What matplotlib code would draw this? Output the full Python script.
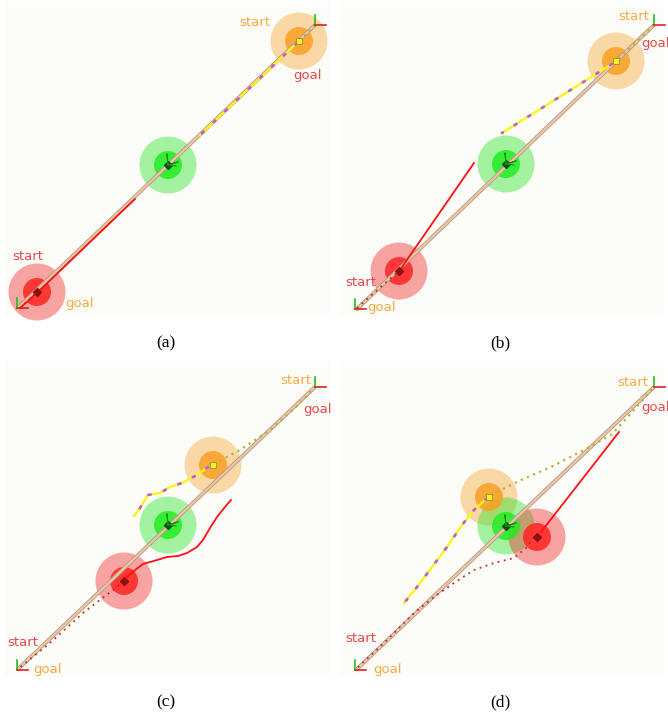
import matplotlib
matplotlib.use("Agg")
import matplotlib.pyplot as plt
from matplotlib.patches import Circle, Rectangle

# ---------------- data (panel-local pixel coordinates, y downward) ----------------
panel_names = ["(a)", "(b)", "(c)", "(d)"]

# global reference path (tan line): start -> end
main_path = {
    "a": ([18, 315], [308, 25]),
    "b": ([22, 320], [310, 25]),
    "c": ([17, 315], [310, 27]),
    "d": ([22, 320], [310, 27]),
}
# robot centres: orange, green, red
orange_robot = {"a": (299, 41), "b": (282, 61), "c": (213, 105), "d": (155, 137)}
green_robot = {"a": (168, 165), "b": (172, 164), "c": (168, 165), "d": (172, 166)}
red_robot = {"a": (37, 292), "b": (65, 271), "c": (124, 221), "d": (203, 177)}

# red robot planned trajectory (solid)
red_plan = {
    "a": ([20, 40, 135], [308, 290, 199]),
    "b": ([66, 140], [270, 163]),
    "c": ([127, 135, 143, 157, 167, 178, 187, 197, 203, 210, 217, 225, 231],
          [217, 210, 204, 200, 197, 196, 193, 187, 180, 168, 157, 147, 140]),
    "d": ([207, 285], [172, 72]),
}
# red robot travelled path (dotted)
red_trail = {
    "a": ([20, 37], [308, 292]),
    "b": ([23, 66], [308, 270]),
    "c": ([124, 113, 83, 50, 18], [221, 230, 253, 283, 309]),
    "d": ([200, 192, 180, 160, 140, 120, 100, 80, 50, 23],
          [177, 188, 198, 203, 210, 223, 237, 253, 283, 308]),
}
# orange robot planned trajectory (yellow with purple waypoints)
orange_plan = {
    "a": ([297, 200], [43, 135]),
    "b": ([278, 168], [64, 133]),
    "c": ([208, 197, 182, 170, 160, 148, 145, 140, 134],
          [107, 115, 123, 127, 133, 135, 140, 148, 156]),
    "d": ([153, 140, 128, 113, 98, 83, 70], [138, 150, 165, 187, 207, 227, 243]),
}
# orange robot travelled path (olive dotted)
orange_trail = {
    "a": ([315, 299], [25, 41]),
    "b": ([320, 282], [25, 61]),
    "c": ([208, 240, 270, 295, 315], [107, 90, 70, 48, 27]),
    "d": ([157, 187, 217, 250, 277, 293, 320], [135, 120, 107, 90, 75, 58, 27]),
}
# text labels: (text, x, y, colour key)
labels = {
    "a": [("start", 255, 23, "o"), ("goal", 308, 76, "r"), ("start", 28, 257, "r"), ("goal", 80, 303, "o")],
    "b": [("start", 300, 17, "o"), ("goal", 322, 44, "r"), ("start", 27, 283, "r"), ("goal", 48, 308, "o")],
    "c": [("start", 296, 20, "o"), ("goal", 318, 49, "r"), ("start", 23, 282, "r"), ("goal", 48, 310, "o")],
    "d": [("start", 299, 22, "o"), ("goal", 322, 48, "r"), ("start", 27, 278, "r"), ("goal", 53, 310, "o")],
}
# coordinate frames at the two start points
frames = {
    "a": [(315, 25), (17, 308)],
    "b": [(320, 25), (21, 309)],
    "c": [(315, 27), (17, 310)],
    "d": [(320, 27), (21, 310)],
}

# ---------------- styling ----------------
C_ORANGE_TXT = "#f5aa45"
C_RED_TXT = "#e84848"
W, H = 668, 717
PW, PH = 334, 330
origins = {"a": (0, 0), "b": (334, 0), "c": (0, 360), "d": (334, 360)}
caption_pos = {"a": (166, 343), "b": (500, 343), "c": (166, 702), "d": (500, 702)}

fig = plt.figure(figsize=(W / 100, H / 100), dpi=100)
fig.patch.set_facecolor("white")

for key, name in zip("abcd", panel_names):
    ox, oy = origins[key]
    ax = fig.add_axes([ox / W, (H - oy - PH) / H, PW / W, PH / H])
    ax.set_xlim(0, PW)
    ax.set_ylim(PH, 0)
    ax.axis("off")
    ax.add_patch(Rectangle((5, 2), 325, 315, facecolor="#fcfcf9", edgecolor="none", zorder=0))

    # robots: outer + inner discs
    for (cx, cy), base, inner in [
        (orange_robot[key], (0.96, 0.66, 0.20), (0.98, 0.62, 0.12)),
        (green_robot[key], (0.15, 0.90, 0.15), (0.12, 0.93, 0.12)),
        (red_robot[key], (0.94, 0.16, 0.16), (1.0, 0.12, 0.12)),
    ]:
        ax.add_patch(Circle((cx, cy), 28.5, facecolor=base, alpha=0.42, edgecolor="none", zorder=1))
        ax.add_patch(Circle((cx, cy), 14, facecolor=inner, alpha=0.82, edgecolor="none", zorder=2))

    # main reference path
    mx, my = main_path[key]
    ax.plot(mx, my, color="#c09888", lw=2.8, solid_capstyle="butt", zorder=3)
    ax.plot(mx, my, color="#e8c9a2", lw=1.5, solid_capstyle="butt", zorder=3)

    # orange robot travelled (olive dotted)
    tx, ty = orange_trail[key]
    ax.plot(tx, ty, color="#b8b040", lw=1.6, linestyle=(0, (1, 2)), zorder=4)

    # red robot travelled (dotted)
    rx, ry = red_trail[key]
    ax.plot(rx, ry, color="#c02828", lw=1.3, linestyle=(0, (1, 2.5)), zorder=4)

    # red plan
    px, py = red_plan[key]
    ax.plot(px, py, color="#ff1010", lw=1.3, zorder=5)

    # orange plan: yellow with purple waypoints
    qx, qy = orange_plan[key]
    ax.plot(qx, qy, color="#fbf515", lw=1.7, zorder=5)
    ax.plot(qx, qy, color="#c060d0", lw=2.0, linestyle=(0, (0.8, 5)), dash_capstyle="round", zorder=6)

    # robot bodies
    ax.plot(*orange_robot[key], marker="s", ms=4.5, mfc="#f0f030", mec="#a09020", mew=0.6, zorder=7)
    ax.plot(*green_robot[key], marker="D", ms=4, mfc="#0a5010", mec="#0a5010", zorder=7)
    gx, gy = green_robot[key]
    ax.plot([gx, gx - 1, gx, gx + 10, gx, gx + 8],
            [gy, gy - 11, gy, gy - 3, gy, gy + 1], color="#1a8a1a", lw=0.8, zorder=7)
    ax.plot(*red_robot[key], marker="D", ms=4, mfc="#901010", mec="#901010", zorder=7)

    # coordinate frames
    for fx, fy in frames[key]:
        ax.plot([fx, fx], [fy, fy - 10], color="#20c020", lw=1.2, zorder=8)
        ax.plot([fx, fx + 11], [fy, fy], color="#e02020", lw=1.2, zorder=8)

    # labels
    for txt, lx, ly, c in labels[key]:
        ax.text(lx, ly, txt, color=C_ORANGE_TXT if c == "o" else C_RED_TXT,
                fontsize=9.5, ha="center", va="center", family="DejaVu Sans", zorder=9, clip_on=True)

    cx_, cy_ = caption_pos[key]
    fig.text(cx_ / W, 1 - cy_ / H, name, ha="center", va="center",
             fontsize=12.5, family="Liberation Serif")

fig.savefig("out.png", dpi=100)
